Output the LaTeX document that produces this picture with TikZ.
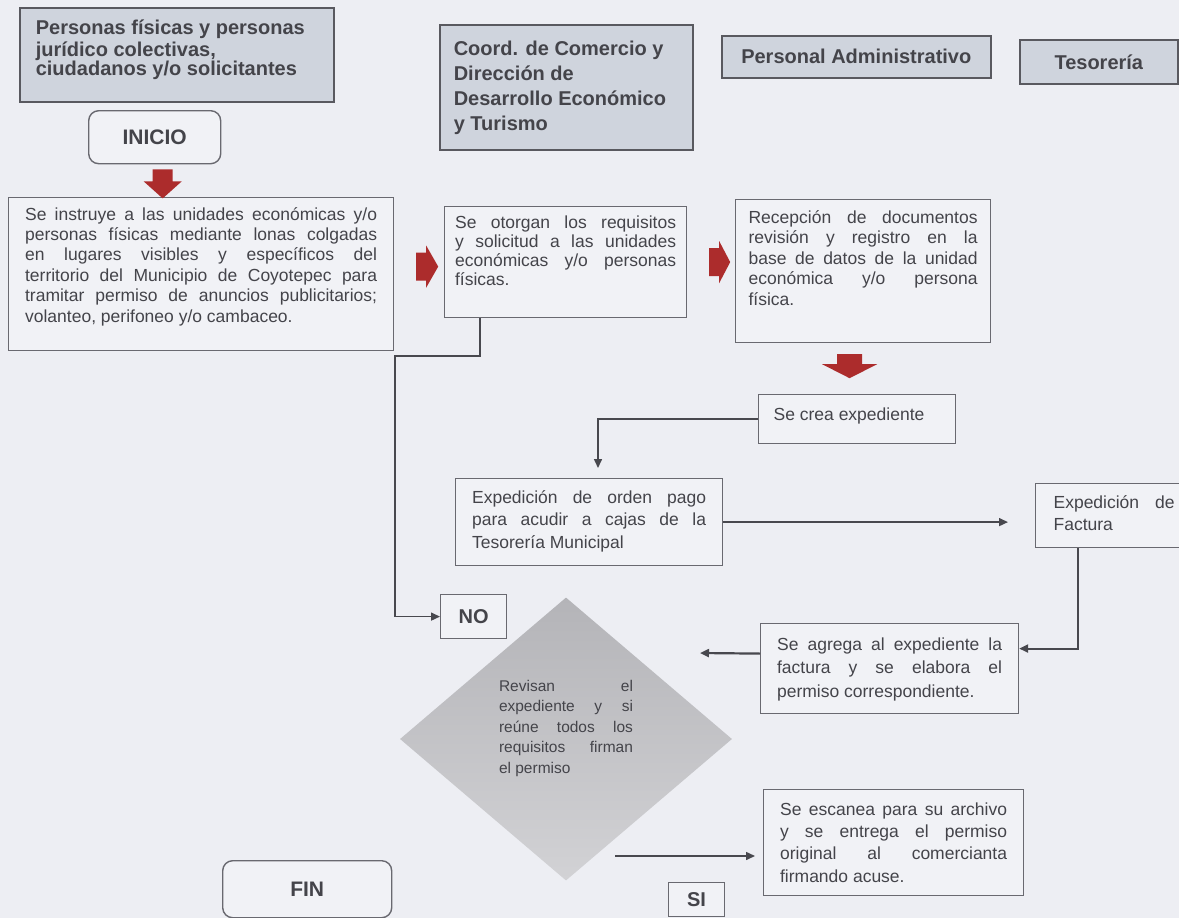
\documentclass[tikz,border=0pt]{standalone}
\usepackage{fontspec}
\setmainfont{Liberation Sans}
\usetikzlibrary{arrows.meta,shapes.geometric,calc}
\definecolor{bgc}{RGB}{237,238,243}
\definecolor{boxfill}{RGB}{241,242,246}
\definecolor{hdrfill}{RGB}{207,212,221}
\definecolor{boxline}{RGB}{105,105,112}
\definecolor{linecol}{RGB}{72,72,78}
\definecolor{txt}{RGB}{68,68,74}
\definecolor{arrred}{RGB}{172,44,44}
\definecolor{diatop}{RGB}{180,180,184}
\definecolor{diabot}{RGB}{210,210,213}
\tolerance=9999
\hyphenpenalty=10000
\newcommand\tb[4]{\parbox[c][#2pt][t]{#1pt}{\vspace*{#3pt}\strut#4}}
\tikzset{
  pics/bdown/.style args={#1/#2/#3/#4}{code={\fill[arrred] (-#1/2,0) -- (#1/2,0) -- (#1/2,#3) -- (#2/2,#3) -- (0,#3+#4) -- (-#2/2,#3) -- (-#1/2,#3) -- cycle;}},
  pics/bright/.style args={#1/#2/#3/#4}{code={\fill[arrred] (0,-#1/2) -- (#3,-#1/2) -- (#3,-#2/2) -- (#3+#4,0) -- (#3,#2/2) -- (#3,#1/2) -- (0,#1/2) -- cycle;}},
}
\begin{document}
\begin{tikzpicture}[x=1pt,y=-1pt,
  box/.style={draw=boxline, fill=boxfill, line width=1.2pt, anchor=north west, inner ysep=0pt, text=txt},
  hdr/.style={draw=boxline!85!black, fill=hdrfill, line width=1.6pt, anchor=north west, inner ysep=0pt, text=txt},
  term/.style={draw=boxline, fill=boxfill, line width=1.4pt, rounded corners=10pt, anchor=north west, inner sep=0pt, text=txt, font=\bfseries\fontsize{21}{24}\selectfont},
  small/.style={draw=boxline, fill=boxfill, line width=1.2pt, anchor=north west, inner sep=0pt, text=txt, font=\bfseries\fontsize{20}{24}\selectfont},
  conn/.style={draw=linecol, line width=1.5pt},
  thick conn/.style={draw=linecol, line width=2.2pt},
  tip/.style={-{Triangle[length=9pt,width=8pt]}},
]
\useasboundingbox (0,0) rectangle (1179,918);
\clip (0,0) rectangle (1179,918);
\fill[bgc] (0,0) rectangle (1179,918);

% headers
\node[hdr, inner xsep=16pt, font=\bfseries\fontsize{20}{19.5}\selectfont] (h1) at (19,7)
  {\tb{282}{94}{12.5}{\raggedright Personas físicas y personas\\ jurídico colectivas,\\ ciudadanos y/o solicitantes}};
\node[hdr, inner xsep=14pt, font=\bfseries\fontsize{20}{25.3}\selectfont] (h2) at (439,24)
  {\tb{225}{125}{12.5}{\raggedright Coord. de Comercio y\\ Dirección de\\ Desarrollo Económico\\ y Turismo}};
\node[hdr, inner xsep=0pt, minimum width=269pt, minimum height=42pt, font=\bfseries\fontsize{20}{24}\selectfont] (h3) at (721,35) {Personal Administrativo};
\node[hdr, inner xsep=0pt, minimum width=158pt, minimum height=44pt, font=\bfseries\fontsize{20}{24}\selectfont] (h4) at (1019,39) {Tesorería};

% terminals
\node[term, minimum width=132pt, minimum height=53pt] (inicio) at (88,110) {INICIO};
\node[term, minimum width=169pt, minimum height=57pt] (fin) at (222,860) {FIN};

% process boxes
\node[box, inner xsep=16.5pt, font=\fontsize{17.5}{20.4}\selectfont] (A) at (8,197)
  {\tb{352}{153}{8.3}{Se instruye a las unidades económicas y/o\linebreak personas físicas mediante lonas colgadas\linebreak en lugares visibles y específicos del\linebreak territorio del Municipio de Coyotepec para\linebreak tramitar permiso de anuncios publicitarios;\linebreak volanteo, perifoneo y/o cambaceo.}};
\node[box, inner xsep=10.5pt, font=\fontsize{17.5}{19}\selectfont] (B) at (444,206)
  {\tb{221}{111}{8.3}{Se otorgan los requisitos\linebreak y solicitud a las unidades\linebreak económicas y/o personas\linebreak físicas.}};
\node[box, inner xsep=13pt, font=\fontsize{17.5}{20.5}\selectfont] (C) at (735,199)
  {\tb{229}{143}{9.2}{Recepción de documentos\linebreak revisión y registro en la\linebreak base de datos de la unidad\linebreak económica y/o persona\linebreak física.}};
\node[box, inner xsep=15pt, font=\fontsize{17.5}{20}\selectfont] (D) at (758,394)
  {\tb{167}{49}{11.5}{Se crea expediente}};
\node[box, inner xsep=16.5pt, font=\fontsize{17.5}{22.5}\selectfont] (E) at (455,478)
  {\tb{234}{87}{8.8}{Expedición de orden pago\linebreak para acudir a cajas de la\linebreak Tesorería Municipal}};
\node[box, inner xsep=18pt, font=\fontsize{17.5}{22}\selectfont] (F) at (1035,483)
  {\tb{121}{64}{9.2}{Expedición de\linebreak Factura}};
\node[box, inner xsep=16.5pt, font=\fontsize{17.5}{23.5}\selectfont] (G) at (760,623)
  {\tb{225}{90}{10.1}{Se agrega al expediente la\linebreak factura y se elabora el\linebreak permiso correspondiente.}};
\node[box, inner xsep=16.5pt, font=\fontsize{17.5}{22.3}\selectfont] (H) at (763,789)
  {\tb{227}{106}{10}{Se escanea para su archivo\linebreak y se entrega el permiso\linebreak original al comercianta\linebreak firmando acuse.}};

% decision
\node[diamond, draw=none, top color=diatop, bottom color=diabot, minimum width=332pt, minimum height=283pt, inner sep=0pt, text=txt, font=\fontsize{15.5}{20.6}\selectfont] (dia) at (566,739)
  {\tb{134}{140}{7.6}{Revisan el\linebreak expediente y si\linebreak reúne todos los\linebreak requisitos firman\linebreak el permiso}};
\node[small, minimum width=66pt, minimum height=44pt] (no) at (440,594) {NO};
\node[small, minimum width=56pt, minimum height=34pt] (si) at (668,882) {SI};

% red block arrows
\pic at ($(inicio.south)+(8,5)$) {bdown=20/38/12/17};
\pic at ($(A.east)+(22,-7.5)$) {bright=28/42/10/12};
\pic at ($(B.east)+(22,0)$) {bright=28/42/10/11};
\pic at ($(C.south)+(-13.5,11)$) {bdown=25/55/10/14};

% connectors
\coordinate (b1) at (395,356);
\draw[conn, tip] ([xshift=36pt]B.south west) |- (b1) |- (no.west);
\draw[conn, tip, shorten >=10pt] (D.west) -| ([xshift=143pt]E.north west);
\draw[conn, tip, shorten >=27pt] (E.east) -- (E.east -| F.west);
\draw[thick conn, tip] ([xshift=43pt]F.south west) |- ([yshift=20pt]G.east);
\coordinate (gt) at (700,653);
\draw[thick conn, tip] ([yshift=15pt]G.west) -- (gt);
\coordinate (ds) at (615,856);
\draw[conn, tip, shorten >=8pt] (ds) -- (ds -| H.west);
\end{tikzpicture}
\end{document}
